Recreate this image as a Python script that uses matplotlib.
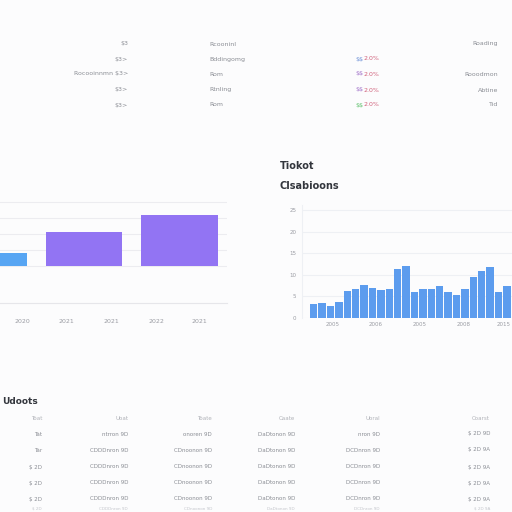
import matplotlib
matplotlib.use("Agg")
import matplotlib.pyplot as plt

plt.rcParams["text.parse_math"] = False

# ---------------- data ----------------
left_years = ["2020", "2021", "2021", "2022", "2021"]
left_tick_pos = [0.35, 0.82, 1.29, 1.76, 2.21]
left_values = [8, 21, 32]
left_colors = ["#57a5f3", "#9274f3", "#9274f3"]

right_values = [3.2, 3.4, 2.8, 3.7, 6.2, 6.6, 7.7, 7.0, 6.4, 6.8, 11.3, 12.0,
                6.1, 6.8, 6.8, 7.3, 6.1, 5.4, 6.8, 9.4, 10.8, 11.9, 6.1, 7.4, 6.5]
right_ticks = ["2005", "2006", "2005", "2008", "2015"]
right_tick_pos = [2.2, 7.4, 12.6, 17.8, 22.6]
right_yticks = [0, 5, 10, 15, 20, 25]

top_col1 = ["$3", "$3>", "Rocooinnmn $3>", "$3>", "$3>"]
top_col2 = ["Rcooninl", "Bddingomg", "Rom", "Rtnling", "Rom"]
top_col3a = ["", "$$", "$$", "$$", "$$"]
top_col3b = ["", "2.0%", "2.0%", "2.0%", "2.0%"]
top_col3a_colors = ["#888888", "#6b8fd6", "#a070c8", "#a070c8", "#5cbf6a"]
top_col4 = ["Roading", "", "Rooodmon", "Abtine", "Tid"]

bottom_header = ["Toat", "Uoat", "Toate", "Caate", "Uoral", "Coarst"]
bottom_rows = [
    ["Tat", "ntrron 9D", "onoren 9D", "DaDtonon 9D", "nron 9D", "$ 2D 9D"],
    ["Tar", "CDDDnron 9D", "CDnoonon 9D", "DaDtonon 9D", "DCDnron 9D", "$ 2D 9A"],
    ["$ 2D", "CDDDnron 9D", "CDnoonon 9D", "DaDtonon 9D", "DCDnron 9D", "$ 2D 9A"],
    ["$ 2D", "CDDDnron 9D", "CDnoonon 9D", "DaDtonon 9D", "DCDnron 9D", "$ 2D 9A"],
    ["$ 2D", "CDDDnron 9D", "CDnoonon 9D", "DaDtonon 9D", "DCDnron 9D", "$ 2D 9A"],
    ["$ 2D", "CDDDnron 9D", "CDnoonon 9D", "DaDtonon 9D", "DCDnron 9D", "$ 2D 9A"],
]

BG = "#fcfcfd"
W = H = 512.0

def fx(px):
    return px / W

def fy(py):
    return 1 - py / H

fig = plt.figure(figsize=(5.12, 5.12), dpi=100, facecolor=BG)

# ---------------- top table ----------------
grey = "#8a8d94"
row_y = [44, 59, 74, 90, 105]
for i, y in enumerate(row_y):
    fig.text(fx(128), fy(y), top_col1[i], ha="right", va="center", fontsize=4.5, color=grey)
    fig.text(fx(209), fy(y), top_col2[i], ha="left", va="center", fontsize=4.5, color=grey)
    if top_col3a[i]:
        fig.text(fx(355), fy(y), top_col3a[i], ha="left", va="center", fontsize=4.5,
                 color=top_col3a_colors[i])
        fig.text(fx(364), fy(y), top_col3b[i], ha="left", va="center", fontsize=4.5,
                 color="#d0607a")
    fig.text(fx(498), fy(y), top_col4[i], ha="right", va="center", fontsize=4.5, color=grey)

# ---------------- left bar chart ----------------
px_per_unit = 95.5
zero_px = -11.5
xl = (-0.6, 2.5)
ax_left_px = zero_px + xl[0] * px_per_unit
ax_right_px = zero_px + xl[1] * px_per_unit
yl = (-23, 41)
y0_px = 266
ppu_y = 1.6
ax_top_px = y0_px - yl[1] * ppu_y
ax_bot_px = y0_px - yl[0] * ppu_y
ax1 = fig.add_axes([fx(ax_left_px), fy(ax_bot_px), (ax_right_px - ax_left_px) / W,
                    (ax_bot_px - ax_top_px) / H])
ax1.set_facecolor(BG)
ax1.bar(range(len(left_values)), left_values, width=0.8, color=left_colors, zorder=3)
ax1.set_xlim(*xl)
ax1.set_ylim(*yl)
ax1.set_yticks([0, 10, 20, 30, 40])
ax1.yaxis.grid(True, color="#ececf0", linewidth=0.8, zorder=0)
ax1.set_yticklabels([])
ax1.tick_params(axis="y", length=0)
ax1.set_xticks(left_tick_pos)
ax1.set_xticklabels(left_years, fontsize=4.5, color="#9a9ca3")
ax1.tick_params(axis="x", length=0, pad=12)
for s in ["top", "right", "left"]:
    ax1.spines[s].set_visible(False)
ax1.spines["bottom"].set_color("#e6e6ea")
ax1.spines["bottom"].set_linewidth(0.8)

# ---------------- right bar chart ----------------
fig.text(fx(280), fy(166), "Tiokot", ha="left", va="center", fontsize=7, color="#33363d",
         fontweight="bold")
fig.text(fx(280), fy(186), "Clsabioons", ha="left", va="center", fontsize=7, color="#33363d",
         fontweight="bold")

rppu = 8.4
r0_px = 313.75
rxl = (-1.4, 24.55)
r_left = r0_px + rxl[0] * rppu
r_right = r0_px + rxl[1] * rppu
ryl = (0, 26.2)
ry0 = 318
ryppu = 108 / 25
r_top = ry0 - ryl[1] * ryppu
ax2 = fig.add_axes([fx(r_left), fy(ry0), (r_right - r_left) / W, (ry0 - r_top) / H])
ax2.set_facecolor(BG)
ax2.bar(range(len(right_values)), right_values, width=0.88, color="#5c9cee", zorder=3)
ax2.set_xlim(*rxl)
ax2.set_ylim(*ryl)
ax2.set_yticks(right_yticks)
ax2.set_yticklabels([str(v) for v in right_yticks], fontsize=4, color="#9a9ca3")
ax2.yaxis.grid(True, color="#eef0f4", linewidth=0.8, zorder=0)
ax2.tick_params(axis="y", length=0, pad=4)
ax2.set_xticks(right_tick_pos)
ax2.set_xticklabels(right_ticks, fontsize=4, color="#9a9ca3")
ax2.tick_params(axis="x", length=0, pad=3)
for s in ["top", "right", "bottom"]:
    ax2.spines[s].set_visible(False)
ax2.spines["left"].set_color("#eef0f4")

# ---------------- bottom table ----------------
fig.text(fx(2), fy(401), "Udoots", ha="left", va="center", fontsize=6.5, color="#33363d",
         fontweight="bold")
col_x = [42, 128, 212, 295, 380, 490]
for j, h in enumerate(bottom_header):
    fig.text(fx(col_x[j]), fy(418), h, ha="right", va="center", fontsize=4, color="#b0b2b8")
brow_y = [434, 450, 467, 483, 499, 509]
for i, row in enumerate(bottom_rows):
    for j, t in enumerate(row):
        fig.text(fx(col_x[j]), fy(brow_y[i]), t, ha="right", va="center",
                 fontsize=4 if i < 5 else 3, color="#8a8d94" if i < 5 else "#c4c6cc")

fig.savefig("out.png", dpi=100, facecolor=BG)
